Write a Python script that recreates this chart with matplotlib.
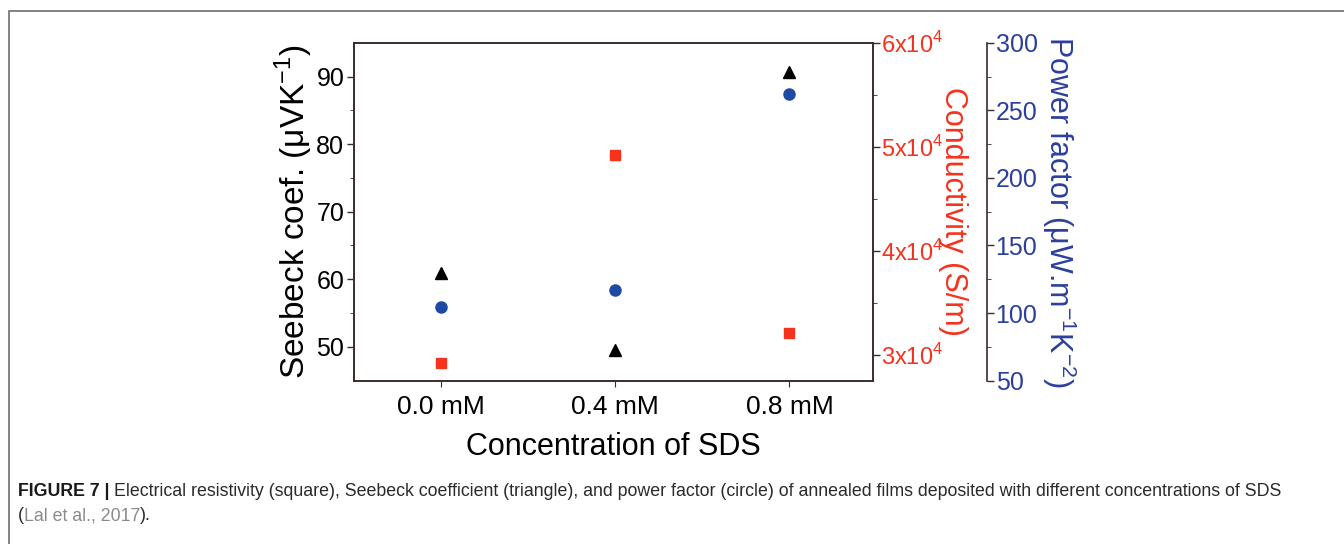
import matplotlib.pyplot as plt
from matplotlib.ticker import MultipleLocator, FixedLocator
from matplotlib.patches import Rectangle

plt.rcParams['font.family'] = ['Liberation Sans', 'DejaVu Sans']
plt.rcParams['mathtext.fontset'] = 'custom'
plt.rcParams['mathtext.rm'] = 'Liberation Sans'

# ----------------------------
# Data
# ----------------------------
concentrations = ["0.0 mM", "0.4 mM", "0.8 mM"]
seebeck = [61.0, 49.5, 90.6]              # uV/K (triangles)
conductivity = [2.92e4, 4.92e4, 3.21e4]   # S/m (squares)
power_factor = [104.5, 117.0, 262.0]      # uW m^-1 K^-2 (circles)

cond_ticks = [3e4, 4e4, 5e4, 6e4]
cond_labels = ["3x10$^4$", "4x10$^4$", "5x10$^4$", "6x10$^4$"]

RED = "#f5321e"
BLUE = "#1e4aa5"
BLUE_TXT = "#2b3f9c"
SPINE = "#3b2b2b"

fig = plt.figure(figsize=(13.44, 5.44), dpi=100)
ax = fig.add_axes([0.2634, 0.3002, 0.3862, 0.6213])
ax2 = ax.twinx()
ax3 = ax.twinx()
ax3.spines['right'].set_position(('axes', 1.22))

x = range(len(concentrations))

ax.plot(x, seebeck, '^', color='black', markersize=8, zorder=5)
ax2.plot(x, conductivity, 's', color=RED, markersize=7, zorder=5)
ax3.plot(x, power_factor, 'o', color=BLUE, markersize=8, zorder=5)

# left axis: Seebeck
ax.set_xlim(-0.5, 2.48)
ax.set_ylim(45, 95)
ax.yaxis.set_major_locator(FixedLocator([50, 60, 70, 80, 90]))
ax.yaxis.set_minor_locator(FixedLocator([55, 65, 75, 85]))
ax.set_xticks(list(x))
ax.set_xticklabels(concentrations, fontsize=19)
ax.tick_params(axis='y', labelsize=18, direction='out', length=5, width=1,
               color=SPINE, pad=2)
ax.tick_params(axis='y', which='minor', length=3, color=SPINE)
ax.tick_params(axis='x', direction='out', length=4, color=SPINE, pad=6)
ax.set_ylabel("Seebeck coef. (\u03bcVK$^{-1}$)", fontsize=24, labelpad=1)
ax.set_xlabel("Concentration of SDS", fontsize=22, labelpad=10)

# conductivity axis
ax2.set_ylim(2.75e4, 6e4)
ax2.yaxis.set_major_locator(FixedLocator(cond_ticks))
ax2.set_yticklabels(cond_labels)
ax2.yaxis.set_minor_locator(FixedLocator([3.5e4, 4.5e4, 5.5e4]))
ax2.tick_params(axis='y', labelsize=17, labelcolor=RED, direction='out',
                length=5, width=1, color=SPINE, pad=1)
ax2.tick_params(axis='y', which='minor', length=3, color=SPINE)
ax2.set_ylabel("Conductivity (S/m)", fontsize=22, color=RED,
               rotation=270, labelpad=-4, va='bottom')

# power factor axis
ax3.set_ylim(50, 300)
ax3.yaxis.set_major_locator(MultipleLocator(50))
ax3.yaxis.set_minor_locator(MultipleLocator(25))
ax3.tick_params(axis='y', labelsize=18, labelcolor=BLUE_TXT, direction='out',
                length=5, width=1, color=SPINE, pad=1)
ax3.tick_params(axis='y', which='minor', length=3, color=SPINE)
ax3.set_ylabel("Power factor (\u03bcW.m$^{-1}$K$^{-2}$)", fontsize=22,
               color=BLUE_TXT, rotation=270, labelpad=2, va='bottom')

for a in (ax, ax2, ax3):
    for s in a.spines.values():
        s.set_color(SPINE)
        s.set_linewidth(1.2)
ax3.spines['left'].set_visible(False)
ax3.spines['top'].set_visible(False)
ax3.spines['bottom'].set_visible(False)

# frame around the figure panel
fig.patches.append(Rectangle((9 / 1344, -0.01), 1.0, 1 - 11 / 544 + 0.01,
                             transform=fig.transFigure, fill=False,
                             edgecolor='#6e6e6e', linewidth=1.2))

# caption
cap_size = 12.8
cap_y1 = 1 - 491 / 544
cap_y2 = 1 - 516 / 544
t = fig.text(18 / 1344, cap_y1, "FIGURE 7 |", fontsize=cap_size, fontweight='bold',
             color='#1a1a1a', va='center')
fig.canvas.draw()
bb = t.get_window_extent()
fig.text(bb.x1 / 1344 + 0.003, cap_y1,
         "Electrical resistivity (square), Seebeck coefficient (triangle), and power "
         "factor (circle) of annealed films deposited with different concentrations of SDS",
         fontsize=cap_size, color='#2a2a2a', va='center')
t2 = fig.text(18 / 1344, cap_y2, "(", fontsize=cap_size, color='#2a2a2a', va='center')
fig.canvas.draw()
b2 = t2.get_window_extent()
t3 = fig.text(b2.x1 / 1344, cap_y2, "Lal et al., 2017", fontsize=cap_size,
              color='#8a8a8a', va='center')
fig.canvas.draw()
b3 = t3.get_window_extent()
fig.text(b3.x1 / 1344, cap_y2, ").", fontsize=cap_size, color='#2a2a2a', va='center')

fig.savefig("out.png", dpi=100)
